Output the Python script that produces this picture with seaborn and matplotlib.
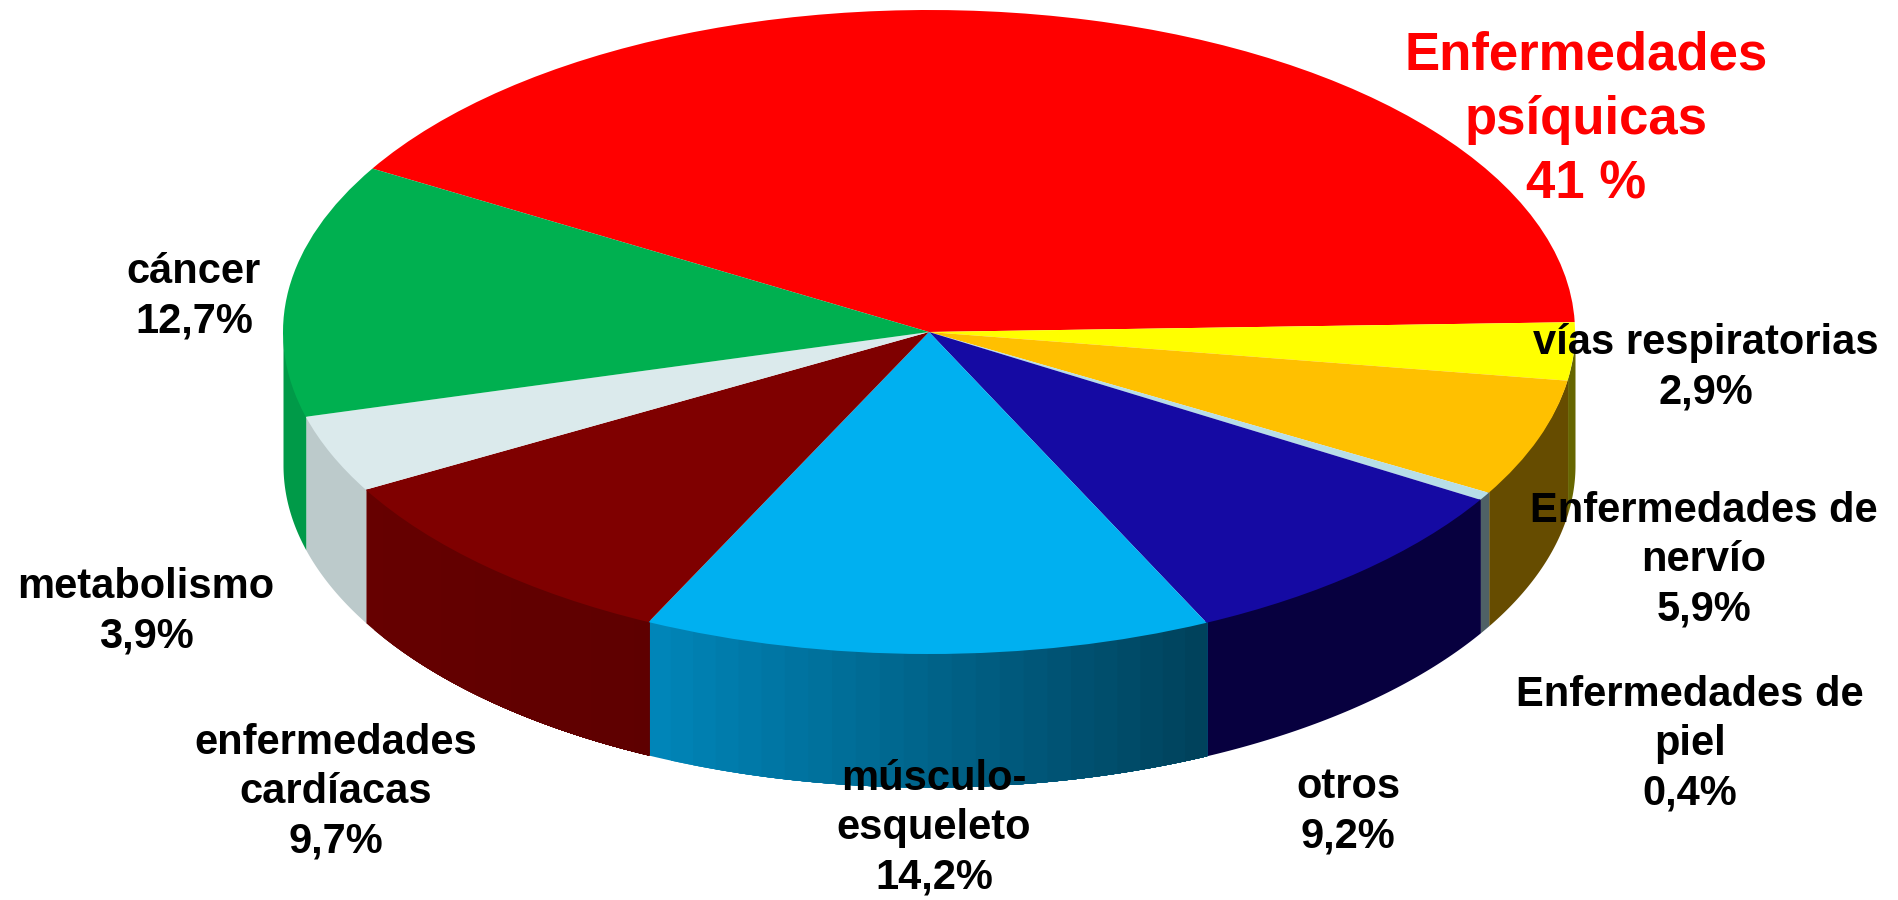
import numpy as np
import matplotlib
matplotlib.use("Agg")
import matplotlib.pyplot as plt
import seaborn as sns

# slices, clockwise from the red one
labels = ["Enfermedades\npsíquicas\n41 %", "vías respiratorias\n2,9%", "Enfermedades de\nnervío\n5,9%",
          "Enfermedades de\npiel\n0,4%", "otros\n9,2%", "músculo-\nesqueleto\n14,2%",
          "enfermedades\ncardíacas\n9,7%", "metabolismo\n3,9%", "cáncer\n12,7%"]
values = [41, 2.9, 5.9, 0.4, 9.2, 14.2, 9.7, 3.9, 12.7]
top_colors = ["#FF0000", "#FFFF00", "#FFC000", "#B7DEE8", "#150AA3", "#00B0F0", "#7F0000", "#DBEAEC", "#00B050"]
side_left = ["#CC0000", "#666600", "#664C00", "#4F6166", "#07003F", "#0085B8", "#660000", "#BCCACB", "#009A48"]
side_right = ["#CC0000", "#666600", "#664C00", "#4F6166", "#07003F", "#003F58", "#5E0000", "#BCCACB", "#009A48"]

# label centres in pixels
label_x = [1586, 1706, 1704, 1690, 1348, 934, 336, 146, 194]
label_y = [120, 368, 560, 744, 812, 828, 792, 612, 297]

W, H = 1899, 900
cx, cy, rx, ry, depth = 929, 332, 646, 322, 133
start = 149.5

sns.set_theme(style="white")
plt.rcParams["font.family"] = ["Liberation Sans", "DejaVu Sans"]

fig = plt.figure(figsize=(W / 100, H / 100), dpi=100)
ax = fig.add_axes([0, 0, 1, 1])

wedges, _ = ax.pie(values, colors=sns.color_palette(top_colors), startangle=start, counterclock=False,
                   wedgeprops={"linewidth": 0, "zorder": 3})
ax.set_aspect("auto")
ax.set_xlim(-cx / rx, (W - cx) / rx)
ax.set_ylim((cy - H) / ry, cy / ry)
ax.axis("off")

# side wall of the disc, only the part facing front
d = depth / ry
for w, c1, c2 in zip(wedges, side_left, side_right):
    a1, a2 = w.theta1 % 360, w.theta2 % 360
    if a2 <= a1:
        a2 += 360
    # keep the lower half of the ellipse
    lo, hi = max(a1, 180), min(a2, 360)
    if hi <= lo:
        continue
    # bands run left to right, each one painted over the last so no seams show
    n = 1 if c1 == c2 else 24
    edges = np.linspace(lo, hi, n + 1)
    pal = sns.blend_palette([c1, c2], n + 1)
    for i in range(n):
        t = np.radians(np.linspace(edges[i], hi, 60))
        x = np.cos(t)
        y = np.sin(t)
        # top edge tucked under the wedge, otherwise a white hairline shows
        ax.fill_between(x, y + 0.008, y - d, color=pal[i], linewidth=0, zorder=2)

for txt, x, y, col in zip(labels, label_x, label_y, ["#FF0000"] + ["black"] * 8):
    red = col != "black"
    fig.text(x / W, 1 - y / H, txt, color=col, ha="center", va="center", fontweight="bold",
             fontsize=38 if red else 30, linespacing=1.36 if red else 1.3, multialignment="center", zorder=5)

fig.savefig("out.png", dpi=100, facecolor="white")
